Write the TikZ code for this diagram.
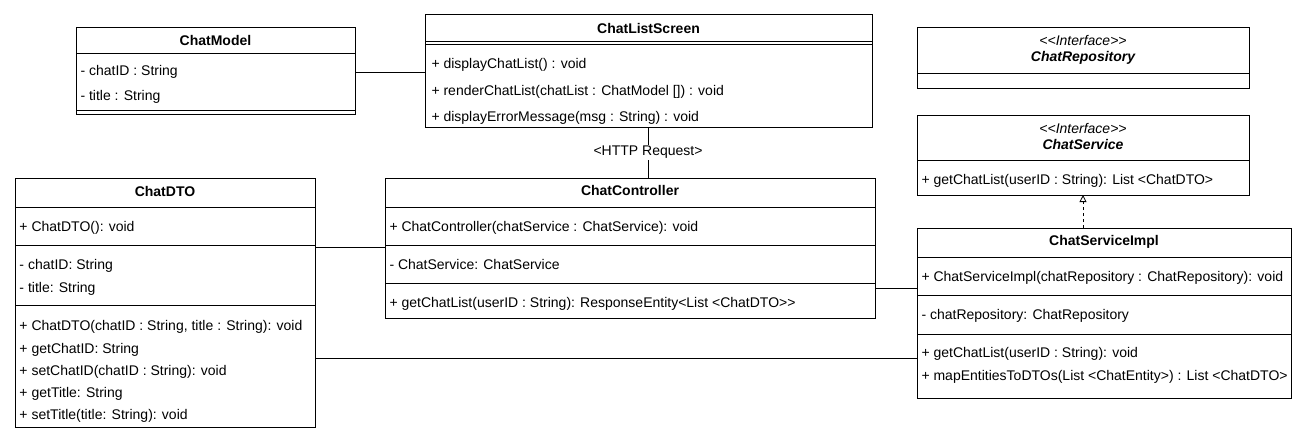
\documentclass[tikz,border=0pt]{standalone}
\usepackage{fontspec}
\setmainfont{Liberation Sans}
\usetikzlibrary{arrows.meta}
\begin{document}
\begin{tikzpicture}[x=1pt,y=-1pt,line width=1pt,
  classbox/.style={draw=black,line width=1pt,anchor=north west,inner sep=0pt,outer sep=0pt},
  member/.style={anchor=base west,inner sep=0pt,yshift=-5pt,font=\fontsize{14}{16}\selectfont},
  ttl/.style={anchor=base,inner sep=0pt,yshift=-5pt,font=\fontsize{14}{16}\selectfont\bfseries},
  itl/.style={anchor=base,inner sep=0pt,yshift=-5pt,font=\fontsize{14}{16}\selectfont\bfseries\itshape},
  stereo/.style={anchor=base,inner sep=0pt,yshift=-5pt,font=\fontsize{14}{16}\selectfont\itshape},
  conn/.style={draw=black,line width=1pt},
  realize/.style={draw=black,line width=0.8pt,dash pattern=on 3pt off 3pt,-{Triangle[open,length=7pt,width=7pt]}},
  lbl/.style={fill=white,inner sep=1.5pt,font=\fontsize{14}{16}\selectfont}]
\useasboundingbox (0,0) rectangle (1308,444);

% ChatModel
\node[classbox,minimum width=279pt,minimum height=86pt] (cm) at (76,28) {};
\node[ttl] (cmt) at (215.5,41) {ChatModel};
\draw (cm.west |- 0,54) -- (cm.east |- 0,54);
\node[member] (cm1) at (80,70) {- chatID : String};
\node[member] (cm2) at (80,95) {- title : String};
\draw (cm.west |- 0,110) -- (cm.east |- 0,110);

% ChatListScreen
\node[classbox,minimum width=447pt,minimum height=112pt] (cls) at (425,15) {};
\node[ttl] (clst) at (648.5,29) {ChatListScreen};
\draw (cls.west |- 0,42) -- (cls.east |- 0,42);
\draw (cls.west |- 0,45) -- (cls.east |- 0,45);
\node[member] (cls1) at (431,63) {+ displayChatList() : void};
\node[member] (cls2) at (431,90) {+ renderChatList(chatList : ChatModel []) : void};
\node[member] (cls3) at (431,116) {+ displayErrorMessage(msg : String) : void};

% ChatRepository
\node[classbox,minimum width=332pt,minimum height=60pt] (repo) at (917,28) {};
\node[stereo] (repos) at (1083,41) {<{}<Interface>{}>};
\node[itl] (repot) at (1083,57) {ChatRepository};
\draw (repo.west |- 0,73) -- (repo.east |- 0,73);

% ChatService
\node[classbox,minimum width=332pt,minimum height=80pt] (svc) at (917,115) {};
\node[stereo] (svcs) at (1083,128) {<{}<Interface>{}>};
\node[itl] (svct) at (1083,144) {ChatService};
\draw (svc.west |- 0,160) -- (svc.east |- 0,160);
\node[member] (svc1) at (921,179) {+ getChatList(userID : String): List <ChatDTO>};

% ChatDTO
\node[classbox,minimum width=300pt,minimum height=249pt] (dto) at (15,178) {};
\node[ttl] (dtot) at (165,191) {ChatDTO};
\draw (dto.west |- 0,207) -- (dto.east |- 0,207);
\node[member] (dto1) at (19,226) {+ ChatDTO(): void};
\draw (dto.west |- 0,245) -- (dto.east |- 0,245);
\node[member] (dto2) at (19,264) {- chatID: String};
\node[member] (dto3) at (19,287) {- title: String};
\draw (dto.west |- 0,305) -- (dto.east |- 0,305);
\node[member] (dto4) at (19,325) {+ ChatDTO(chatID : String, title : String): void};
\node[member] (dto5) at (19,348) {+ getChatID: String};
\node[member] (dto6) at (19,370) {+ setChatID(chatID : String): void};
\node[member] (dto7) at (19,392) {+ getTitle: String};
\node[member] (dto8) at (19,414) {+ setTitle(title: String): void};

% ChatController
\node[classbox,minimum width=490pt,minimum height=140pt] (ctrl) at (385,178) {};
\node[ttl] (ctrlt) at (630,190) {ChatController};
\draw (ctrl.west |- 0,207) -- (ctrl.east |- 0,207);
\node[member] (ctrl1) at (389,226) {+ ChatController(chatService : ChatService): void};
\draw (ctrl.west |- 0,245) -- (ctrl.east |- 0,245);
\node[member] (ctrl2) at (389,264) {- ChatService: ChatService};
\draw (ctrl.west |- 0,283) -- (ctrl.east |- 0,283);
\node[member] (ctrl3) at (389,302) {+ getChatList(userID : String): ResponseEntity<List <ChatDTO>{}>};

% ChatServiceImpl
\node[classbox,minimum width=374pt,minimum height=170pt] (impl) at (917,228) {};
\node[ttl] (implt) at (1104,240) {ChatServiceImpl};
\draw (impl.west |- 0,257) -- (impl.east |- 0,257);
\node[member] (impl1) at (921,276) {+ ChatServiceImpl(chatRepository : ChatRepository): void};
\draw (impl.west |- 0,295) -- (impl.east |- 0,295);
\node[member] (impl2) at (921,314) {- chatRepository: ChatRepository};
\draw (impl.west |- 0,334) -- (impl.east |- 0,334);
\node[member] (impl3) at (921,352) {+ getChatList(userID : String): void};
\node[member] (impl4) at (921,375) {+ mapEntitiesToDTOs(List <ChatEntity>) : List <ChatDTO>};

% connectors
\draw[conn] (cm.east |- 0,72) -- (cls.west |- 0,72);
\draw[conn] (cls.south -| 648,0) -- (ctrl.north -| 648,0)
  node[lbl,pos=0.5] (http) {<HTTP Request>};
\draw[conn] (dto.east |- 0,247) -- (ctrl.west |- 0,247);
\draw[conn] (ctrl.east |- 0,288) -- (impl.west |- 0,288);
\draw[conn] (dto.east |- 0,358) -- (impl.west |- 0,358);
\draw[realize] (impl.north -| 1083,0) -- (svc.south -| 1083,0);
\end{tikzpicture}
\end{document}
